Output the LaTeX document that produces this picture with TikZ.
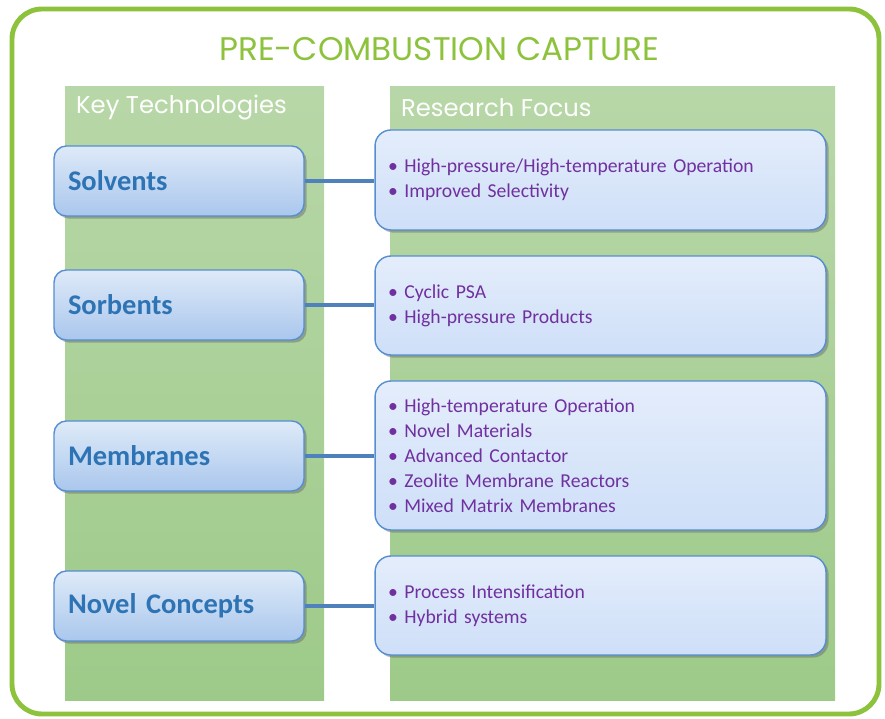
\documentclass[tikz,border=0pt]{standalone}
\usepackage{fontspec}
\setmainfont{Carlito}
\newfontfamily\headfont{Poppins}
\usetikzlibrary{shadows}

\definecolor{framegreen}{RGB}{141,194,61}
\definecolor{coltop}{RGB}{184,215,168}
\definecolor{colbot}{RGB}{157,202,137}
\definecolor{techtop}{RGB}{222,234,248}
\definecolor{techbot}{RGB}{170,199,237}
\definecolor{focustop}{RGB}{228,237,251}
\definecolor{focusbot}{RGB}{206,223,248}
\definecolor{boxline}{RGB}{86,142,210}
\definecolor{techblue}{RGB}{46,116,181}
\definecolor{focuspurple}{RGB}{112,48,160}
\definecolor{linkblue}{RGB}{79,129,189}

\newcommand{\bul}{\textbullet\ }

\begin{document}
\begin{tikzpicture}[x=0.02cm,y=-0.02cm,
	techbox/.style={draw=boxline, line width=0.8pt, rounded corners=7pt,
		top color=techtop, bottom color=techbot,
		minimum width=5cm, minimum height=1.4cm, text width=4.44cm, inner xsep=0.28cm,
		align=left, text=techblue, font=\fontsize{16.2}{19}\selectfont\bfseries,
		drop shadow={shadow xshift=1.5pt, shadow yshift=-1.5pt, opacity=0.45, fill=black!60}},
	focusbox/.style={draw=boxline, line width=0.8pt, rounded corners=9pt,
		top color=focustop, bottom color=focusbot,
		minimum width=9.02cm, text width=8.5cm, inner xsep=0.26cm,
		align=left, text=focuspurple, font=\fontsize{11.2}{14.2}\selectfont,
		drop shadow={shadow xshift=1.5pt, shadow yshift=-1.5pt, opacity=0.45, fill=black!60}},
	link/.style={draw=linkblue, line width=1.8pt},
	colhead/.style={anchor=west, text=white, font=\headfont\fontsize{13.8}{16}\selectfont}]

\useasboundingbox (0,0) rectangle (885,719);

% frame and title
\draw[framegreen, line width=2.8pt, rounded corners=0.6cm] (12,9) rectangle (879,714);
\node[text=framegreen, font=\headfont\fontsize{18.6}{21}\selectfont] (title) at (439,49) {PRE-COMBUSTION CAPTURE};

% columns
\shade[top color=coltop, bottom color=colbot] (65,87) rectangle (324,700);
\shade[top color=coltop, bottom color=colbot] (390,87) rectangle (835,700);
\node[colhead] (keyhead) at (70,108) {Key Technologies};
\node[colhead] (focushead) at (395,108) {Research Focus};

% key technologies
\foreach \nm/\y/\txt in {solv/181/Solvents, sorb/305/Sorbents, memb/456/Membranes, novel/606/Novel Concepts}
{
	\node[techbox] (\nm) at (179,\y) {\txt};
}

% research focus
\foreach \nm/\y/\h/\txt in {
	solvF/180/2/{\bul High-pressure/High-temperature Operation\\ \bul Improved Selectivity},
	sorbF/305.5/1.98/{\bul Cyclic PSA\\ \bul High-pressure Products},
	membF/455.5/2.98/{\bul High-temperature Operation\\ \bul Novel Materials\\ \bul Advanced Contactor\\ \bul Zeolite Membrane Reactors\\ \bul Mixed Matrix Membranes},
	novelF/605.5/1.98/{\bul Process Intensification\\ \bul Hybrid systems}}
{
	\node[focusbox, minimum height=\h cm] (\nm) at (600.5,\y) {\txt};
}

%% links %%
\foreach \nm in {solv,sorb,memb,novel}
{
	\draw[link] (\nm.east) -- (\nm.east -| \nm F.west);
}
\end{tikzpicture}
\end{document}
